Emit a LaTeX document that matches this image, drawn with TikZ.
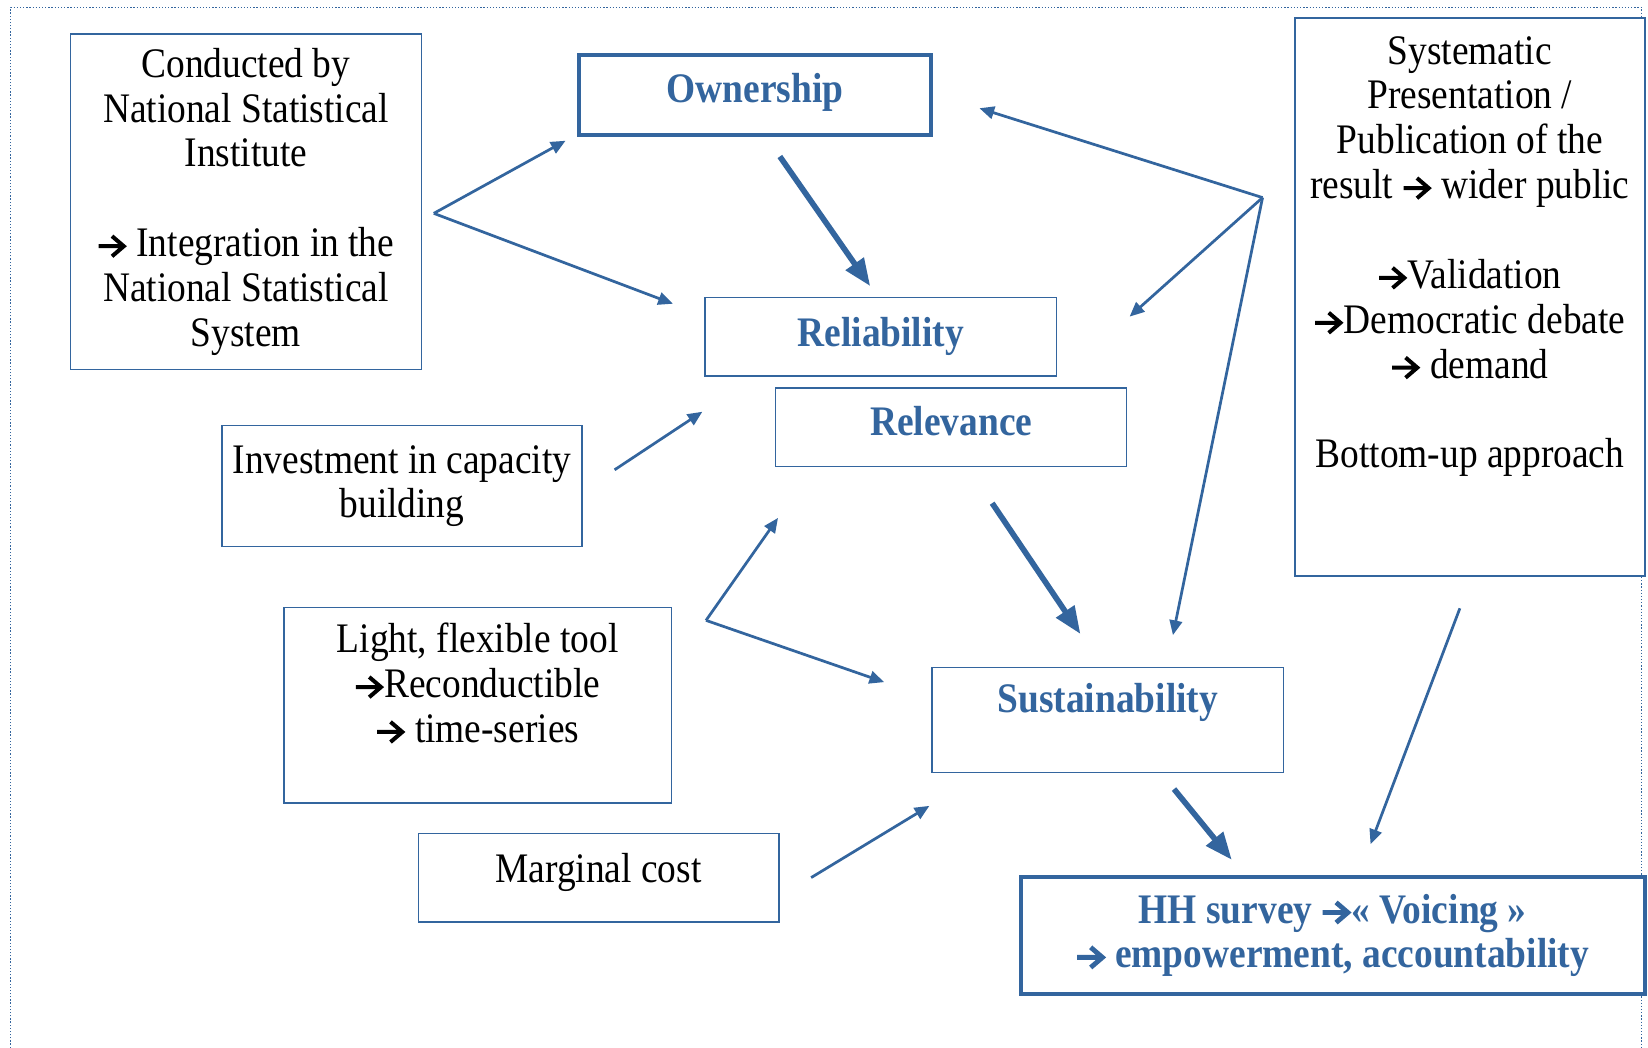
\documentclass[tikz,border=0pt]{standalone}
\usepackage{fontspec}
\setmainfont{Liberation Serif}[FakeStretch=0.89]
\usetikzlibrary{arrows.meta,calc}
\definecolor{ablue}{RGB}{51,101,158}
\newcommand{\ra}[1][1.9pt]{\tikz[baseline=0pt,x=1pt,y=1pt]{\useasboundingbox (0,0) rectangle (14,9.5);
  \draw[line width=#1, line join=miter] (0.4,5) -- (12,5) (6.8,9.8) -- (12.4,5) -- (6.8,0.2);}}
\tikzset{
  box/.style={draw=ablue, fill=white, line width=0.75pt, inner sep=0pt, align=center, text=black},
  tbox/.style={box, line width=1.9pt},
  blab/.style={text=ablue, font=\fontsize{20}{21.35}\selectfont\bfseries},
  thinarr/.style={draw=ablue, line width=1.3pt, -{Triangle[length=7pt,width=6pt]}},
  thickarr/.style={draw=ablue, line width=2.7pt, -{Triangle[length=13pt,width=10pt]}},
  dotline/.style={draw=ablue, line width=0.6pt, dash pattern=on 0.6pt off 0.9pt},
}
\begin{document}
\begin{tikzpicture}[x=0.5pt,y=-0.5pt, font=\fontsize{20}{21.35}\selectfont]
\useasboundingbox (0,0) rectangle (1568,997);
\draw[dotline] (10,1000) -- (10,7) -- (1562,7) -- (1562,1000);

\node[box, minimum width=167pt, minimum height=159.5pt] (nsi) at (234,192)
  {Conducted by\\National Statistical\\Institute\\\mbox{}\\\ra{} Integration in the\\National Statistical\\System};
\node[tbox, blab, minimum width=167.5pt, minimum height=38pt, text depth=6.4pt] (own) at (718.5,90) {Ownership};
\node[box, blab, minimum width=167pt, minimum height=37.5pt] (rel) at (838,320.5) {Reliability};
\node[box, blab, minimum width=167pt, minimum height=37.5pt, text depth=6pt] (relv) at (905,406.5) {Relevance};
\node[box, minimum width=171.5pt, minimum height=57.5pt] (inv) at (382.5,462.5)
  {Investment in capacity\\building};
\node[box, minimum width=184.5pt, minimum height=93pt] (light) at (454.5,671)
  {Light, flexible tool\\\ra Reconductible\\\ra{} time-series\\\mbox{}};
\node[box, minimum width=171.5pt, minimum height=42pt, text depth=9.4pt] (marg) at (569.5,835) {Marginal cost};
\node[box, blab, minimum width=167pt, minimum height=50pt] (sust) at (1054,685) {Sustainability\\\mbox{}};
\node[tbox, blab, minimum width=297pt, minimum height=56pt] (hh) at (1268,890)
  {HH survey \ra[2.3pt]« Voicing »\\\ra[2.3pt]{} empowerment, accountability};
\node[box, minimum width=166.5pt, minimum height=265.5pt] (sys) at (1398.5,282.5)
  {Systematic\\Presentation /\\Publication of the\\result \ra{} wider public\\\mbox{}\\\ra Validation\\\ra Democratic debate\\\ra{} demand\\\mbox{}\\Bottom-up approach\\\mbox{}\\\mbox{}};

% connectors
\coordinate (nsiout) at ($(nsi.east)+(11,11)$);
\draw[thinarr] (nsiout) -- ($(own.south west)+(-11,4)$);
\draw[thinarr] (nsiout) -- ($(rel.west)+(-30,-31.5)$);
\draw[thickarr] ($(own.south)+(23.5,19)$) -- ($(rel.north)+(-10,-10)$);

\coordinate (sysout) at ($(sys.west)+(-30,-94.5)$);
\draw[thinarr] (sysout) -- ($(own.east)+(44,13)$);
\draw[thinarr] (sysout) -- ($(rel.north east)+(69,19)$);
\draw[thinarr] (sysout) -- ($(sust.north)+(62,-30)$);

\draw[thinarr] ($(inv.east)+(30,-15.5)$) -- ($(rel.south west)+(-2,33)$);

\coordinate (lightout) at ($(light.north east)+(32,13)$);
\draw[thinarr] (lightout) -- ($(relv.south west)+(3,48)$);
\draw[thinarr] (lightout) -- ($(sust.west)+(-45,-36)$);

\draw[thickarr] ($(relv.south)+(39,34)$) -- ($(sust.north)+(-26,-31)$);
\draw[thinarr] ($(marg.east)+(30,0)$) -- ($(sust.south west)+(-2,31)$);
\draw[thickarr] ($(sust.south)+(63,15)$) -- ($(hh.north)+(-96,-14)$);
\draw[thinarr] ($(sys.south)+(-9.5,30)$) -- ($(hh.north)+(36,-29)$);
\end{tikzpicture}
\end{document}
